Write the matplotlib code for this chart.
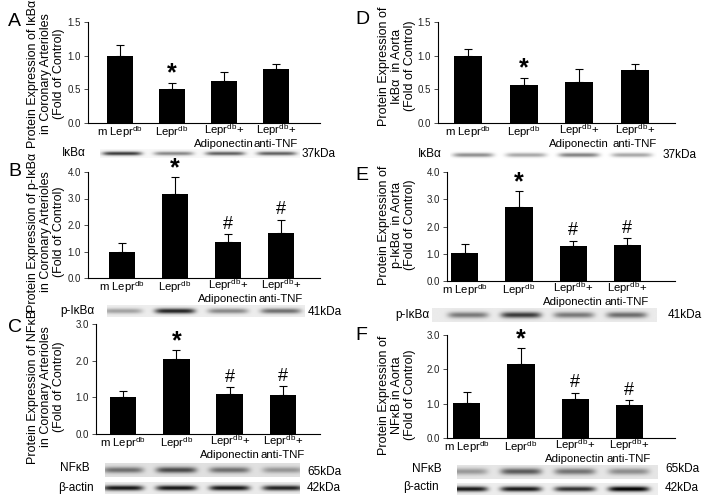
import numpy as np
import matplotlib.pyplot as plt

plt.rcParams['font.family'] = ['Liberation Sans', 'DejaVu Sans']
plt.rcParams['mathtext.fontset'] = 'custom'
plt.rcParams['mathtext.rm'] = 'Liberation Sans'
plt.rcParams['mathtext.it'] = 'Liberation Sans:italic'

W, H = 704, 501

groups = ["m Lepr$^{\\mathrm{db}}$", "Lepr$^{\\mathrm{db}}$",
          "Lepr$^{\\mathrm{db}}$+\nAdiponectin", "Lepr$^{\\mathrm{db}}$+\nanti-TNF"]

# coronary arterioles
ikba_cor = [1.00, 0.50, 0.62, 0.80]
ikba_cor_err = [0.16, 0.10, 0.14, 0.08]
pikba_cor = [1.00, 3.17, 1.37, 1.70]
pikba_cor_err = [0.33, 0.63, 0.28, 0.50]
nfkb_cor = [1.00, 2.05, 1.08, 1.06]
nfkb_cor_err = [0.17, 0.23, 0.20, 0.24]

# aorta
ikba_ao = [1.00, 0.56, 0.61, 0.79]
ikba_ao_err = [0.10, 0.11, 0.19, 0.09]
pikba_ao = [1.03, 2.72, 1.27, 1.33]
pikba_ao_err = [0.34, 0.58, 0.21, 0.24]
nfkb_ao = [1.02, 2.15, 1.15, 0.97]
nfkb_ao_err = [0.31, 0.47, 0.17, 0.13]

marks_ikba = ['', '*', '', '']
marks_up = ['', '*', '#', '#']

# band darkness per lane (for the blot strips)
blot_ikba_cor = [0.75, 0.45, 0.6, 0.6]
blot_pikba_cor = [0.3, 0.8, 0.4, 0.5]
blot_nfkb_cor = [0.45, 0.6, 0.45, 0.3]
blot_actin_cor = [0.85, 0.85, 0.85, 0.8]
blot_ikba_ao = [0.45, 0.35, 0.5, 0.35]
blot_pikba_ao = [0.45, 0.7, 0.45, 0.5]
blot_nfkb_ao = [0.3, 0.55, 0.45, 0.35]
blot_actin_ao = [0.85, 0.85, 0.75, 0.95]

fig = plt.figure(figsize=(W / 100, H / 100), dpi=100)


def px_axes(x0, y0, x1, y1):
    return fig.add_axes([x0 / W, 1 - y1 / H, (x1 - x0) / W, (y1 - y0) / H])


def lane_lim(x0, x1, c0, c3):
    s = (c3 - c0) / 3
    return (x0 - c0) / s, (x1 - c0) / s


def bar_panel(box, lanes, vals, errs, ymax, step, marks):
    x0, y0, x1, y1 = box
    ax = px_axes(*box)
    pos = np.arange(len(vals))
    ax.bar(pos, vals, width=0.5, color='black')
    ax.errorbar(pos, vals, yerr=[np.zeros(len(errs)), errs], fmt='none',
                ecolor='black', elinewidth=0.8, capsize=3, capthick=0.8)
    for i, m in enumerate(marks):
        if m == '*':
            ax.annotate(m, (i, vals[i] + errs[i]), xytext=(0, -2), textcoords='offset points',
                        ha='center', va='bottom', fontsize=18, fontweight='bold', annotation_clip=False)
        elif m:
            ax.annotate(m, (i, vals[i] + errs[i]), xytext=(0, 1), textcoords='offset points',
                        ha='center', va='bottom', fontsize=13, annotation_clip=False)
    ax.set_xlim(*lane_lim(x0, x1, *lanes))
    ax.set_ylim(0, ymax)
    ax.set_yticks(np.arange(0, ymax + 1e-9, step))
    ax.yaxis.set_major_formatter('{x:.1f}')
    ax.set_xticks(pos, [])
    # group labels, placed line by line
    for i, g in enumerate(groups):
        lines = g.split('\n')
        if len(lines) == 1:
            offs = [-9.5]
        else:
            offs = [-8.0, -17.0]
        for ln, dy in zip(lines, offs):
            ax.annotate(ln, (i, 0), xytext=(0, dy), textcoords='offset points',
                        ha='center', va='baseline', fontsize=8.2, annotation_clip=False)
    ax.tick_params(axis='x', length=0)
    ax.tick_params(axis='y', length=3, width=0.6, labelsize=7, pad=2, color='#333333',
                   labelcolor='#222222')
    for s in ['top', 'right']:
        ax.spines[s].set_visible(False)
    for s in ['left', 'bottom']:
        ax.spines[s].set_linewidth(0.8)
    return ax


def blot(box, lanes, dark, bg, bw=0.38, bh=0.22):
    x0, y0, x1, y1 = box
    ax = px_axes(*box)
    xl = lane_lim(x0, x1, *lanes)
    X, Y = np.meshgrid(np.linspace(xl[0], xl[1], 400), np.linspace(0, 1, 40))
    img = np.full(X.shape, bg)
    for i, d in enumerate(dark):
        img -= d * np.exp(-((X - i) / bw) ** 6) * np.exp(-((Y - 0.5) / bh) ** 2)
    ax.imshow(np.clip(img, 0, 1), extent=(xl[0], xl[1], 0, 1), cmap='gray', vmin=0, vmax=1,
              aspect='auto', interpolation='bilinear')
    ax.set_xlim(*xl)
    ax.axis('off')


def ftext(x, y, s, **kw):
    kw.setdefault('fontsize', 8.5)
    kw.setdefault('va', 'center')
    fig.text(x / W, 1 - y / H, s, **kw)


def ylab(x, y, s):
    fig.text(x / W, 1 - y / H, s, rotation=90, ha='center', va='center',
             multialignment='center', fontsize=9, linespacing=1.15)


# ---- left column: coronary arterioles ----
bar_panel((88, 22, 320, 123), (120, 276), ikba_cor, ikba_cor_err, 1.5, 0.5, marks_ikba)
bar_panel((88, 172, 320, 278), (122, 281), pikba_cor, pikba_cor_err, 4.0, 1.0, marks_up)
bar_panel((96, 324, 320, 434), (123, 283), nfkb_cor, nfkb_cor_err, 3.0, 1.0, marks_up)

ylab(46, 74, "Protein Expression of I\u03baB\u03b1\nin Coronary Arterioles\n(Fold of Control)")
ylab(46, 232, "Protein Expression of p-I\u03baB\u03b1\nin Coronary Arterioles\n(Fold of Control)")
ylab(46, 387, "Protein Expression of NF\u03baB\nin Coronary Arterioles\n(Fold of Control)")

blot((100, 149, 300, 158), (122, 277), blot_ikba_cor, 0.97)
blot((107, 305, 305, 317), (122, 281), blot_pikba_cor, 0.93)
blot((105, 463, 300, 477), (123, 283), blot_nfkb_cor, 0.88)
blot((105, 482, 300, 494), (123, 283), blot_actin_cor, 0.92)

ftext(62, 153, "I\u03baB\u03b1")
ftext(302, 154, "37kDa")
ftext(60, 311, "p-I\u03baB\u03b1")
ftext(308, 312, "41kDa")
ftext(60, 468, "NF\u03baB")
ftext(58, 488, "\u03b2-actin")
ftext(307, 472, "65kDa")
ftext(307, 488, "42kDa")

# ---- right column: aorta ----
bar_panel((438, 22, 675, 123), (468, 635), ikba_ao, ikba_ao_err, 1.5, 0.5, marks_ikba)
bar_panel((447, 172, 675, 281), (465, 627), pikba_ao, pikba_ao_err, 4.0, 1.0, marks_up)
bar_panel((447, 335, 675, 438), (467, 629), nfkb_ao, nfkb_ao_err, 3.0, 1.0, marks_up)

ylab(397, 66, "Protein Expression of\nI\u03baB\u03b1  in Aorta\n(Fold of Control)")
ylab(397, 225, "Protein Expression of\np-I\u03baB\u03b1  in Aorta\n(Fold of Control)")
ylab(397, 395, "Protein Expression of\nNF\u03baB in Aorta\n(Fold of Control)")

blot((450, 150, 657, 160), (473, 632), blot_ikba_ao, 1.0)
blot((432, 308, 657, 322), (468, 627), blot_pikba_ao, 0.92)
blot((457, 465, 658, 479), (467, 629), blot_nfkb_ao, 0.9)
blot((457, 483, 658, 495), (467, 629), blot_actin_ao, 0.93)

ftext(418, 154, "I\u03baB\u03b1")
ftext(663, 155, "37kDa")
ftext(395, 315, "p-I\u03baB\u03b1")
ftext(668, 315, "41kDa")
ftext(412, 469, "NF\u03baB")
ftext(403, 487, "\u03b2-actin")
ftext(665, 469, "65kDa")
ftext(665, 488, "42kDa")

# panel letters
for x, y, s in [(8, 22, 'A'), (8, 172, 'B'), (8, 327, 'C'),
                (355, 20, 'D'), (355, 175, 'E'), (355, 335, 'F')]:
    ftext(x, y, s, fontsize=14)

fig.savefig('out.png', dpi=100)
